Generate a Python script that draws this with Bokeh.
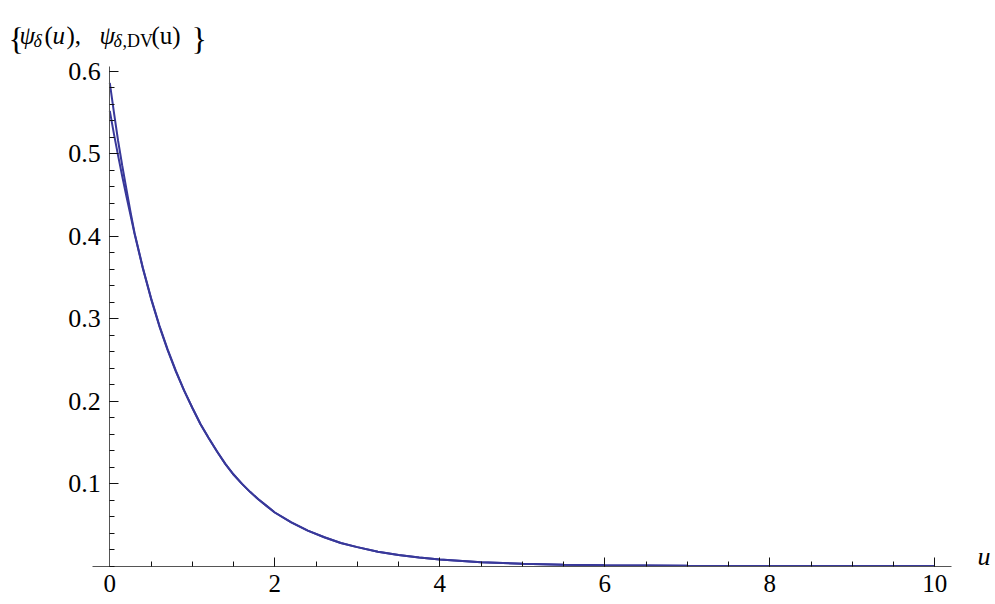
from bokeh.plotting import figure
from bokeh.models import Range1d, LinearAxis, FixedTicker, Label
from bokeh.embed import file_html
from bokeh.resources import INLINE

u = [0, 0.05, 0.1, 0.15, 0.2, 0.25, 0.3, 0.4, 0.5, 0.6, 0.7, 0.8, 0.9, 1.0,
     1.1, 1.2, 1.3, 1.4, 1.5, 1.6, 1.7, 1.8, 1.9, 2.0, 2.2, 2.4, 2.6, 2.8, 3.0,
     3.25, 3.5, 3.75, 4.0, 4.5, 5.0, 5.5, 6.0, 7.0, 8.0, 9.0, 10.0]
psi_delta = [0.586, 0.550, 0.516, 0.486, 0.458, 0.430, 0.404, 0.362, 0.325, 0.292, 0.263, 0.237, 0.213, 0.192,
             0.172, 0.155, 0.139, 0.124, 0.111, 0.100, 0.090, 0.081, 0.073, 0.065, 0.053, 0.043, 0.035, 0.028, 0.023,
             0.0175, 0.0135, 0.0103, 0.0080, 0.0048, 0.0029, 0.0017, 0.0010, 0.0004, 0.00015, 0.00005, 0.00002]
psi_delta_dv = [0.552, 0.524, 0.498, 0.473, 0.449, 0.426, 0.403, 0.361, 0.324, 0.291, 0.262, 0.236, 0.213, 0.192,
                0.172, 0.155, 0.139, 0.124, 0.111, 0.100, 0.090, 0.081, 0.073, 0.065, 0.053, 0.043, 0.035, 0.028, 0.023,
                0.0175, 0.0135, 0.0103, 0.0080, 0.0048, 0.0029, 0.0017, 0.0010, 0.0004, 0.00015, 0.00005, 0.00002]

x_major = [0, 2, 4, 6, 8, 10]
x_minor = [0.5 * i for i in range(0, 21)]
y_major = [0.1, 0.2, 0.3, 0.4, 0.5, 0.6]
y_minor = [round(0.02 * i, 2) for i in range(0, 31)]

FONT = "'Liberation Serif', 'Times New Roman', serif"
CURVE = "#38389a"
W, H = 995, 604

p = figure(width=W, height=H, output_backend="svg", toolbar_location=None,
           x_range=Range1d(-1.3248, 10.7358), y_range=Range1d(-0.04656, 0.68574),
           x_axis_location=None, y_axis_location=None,
           min_border_left=0, min_border_right=0, min_border_top=0, min_border_bottom=0)
p.outline_line_color = None
p.xgrid.visible = False
p.ygrid.visible = False
p.background_fill_color = "white"
p.border_fill_color = "white"

xax = LinearAxis(fixed_location=0, bounds=(-0.21, 10.2),
                 ticker=FixedTicker(ticks=x_major, minor_ticks=x_minor))
yax = LinearAxis(fixed_location=0, bounds=(0, 0.6055),
                 ticker=FixedTicker(ticks=y_major, minor_ticks=y_minor))
for ax in (xax, yax):
    ax.axis_line_color = "#555555"
    ax.axis_line_width = 1
    ax.major_tick_in = 9
    ax.major_tick_out = 0
    ax.minor_tick_in = 5
    ax.minor_tick_out = 0
    ax.major_tick_line_color = "#111111"
    ax.minor_tick_line_color = "#111111"
    ax.major_label_text_font = FONT
    ax.major_label_text_color = "black"
xax.major_label_text_font_size = "25px"
yax.major_label_text_font_size = "26px"
xax.major_label_standoff = 9
yax.major_label_standoff = 9
p.add_layout(xax, "below")
p.add_layout(yax, "left")

p.line(u, psi_delta_dv, line_color=CURVE, line_width=2)
p.line(u, psi_delta, line_color=CURVE, line_width=2)

# canvas coords (top-left origin) -> screen units of the frame (frame == canvas here, y up)
def lab(text, cx, cy, size, style="normal"):
    p.add_layout(Label(x=cx, y=H - cy, x_units="screen", y_units="screen",
                       text=text, text_font=FONT, text_font_size=size,
                       text_font_style=style, text_baseline="alphabetic",
                       text_color="black"))

base = 35
lab("{", 8, base + 3, "32px")
lab("\u03c8", 19, base, "25px", "italic")
lab("\u03b4", 33, base + 5, "18px", "italic")
lab("(", 44, base, "25px")
lab("u", 52, base, "25px", "italic")
lab("),", 66, base, "25px")
lab("\u03c8", 99, base, "25px", "italic")
lab("\u03b4", 113, base + 5, "18px", "italic")
lab(",DV", 122, base + 5, "18px")
lab("(u)", 151, base, "25px")
lab("}", 191, base + 3, "32px")

lab("u", 977, 556, "26px", "italic")

open("out.html", "w").write(file_html(p, INLINE))
